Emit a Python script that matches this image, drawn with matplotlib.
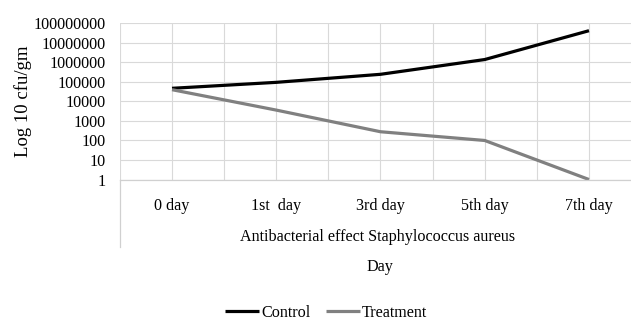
import matplotlib.pyplot as plt
import numpy as np

plt.rcParams['font.family'] = ['Liberation Serif', 'DejaVu Serif']

days = ["0 day", "1st  day", "3rd day", "5th day", "7th day"]
control = [47000, 95000, 245000, 1400000, 42000000]
treatment = [40000, 3600, 280, 100, 1]
y_ticks = [1, 10, 100, 1000, 10000, 100000, 1000000, 10000000, 100000000]

fig = plt.figure(figsize=(6.31, 3.22), dpi=100)
ax = fig.add_axes([0.190, 0.4425, 0.826, 0.485])

x = np.arange(len(days))
ax.plot(x, control, color="black", linewidth=2.3, label="Control", solid_capstyle="butt")
ax.plot(x, treatment, color="#808080", linewidth=2.3, label="Treatment", solid_capstyle="butt")

ax.set_yscale("log")
ax.set_ylim(1, 100000000)
ax.set_yticks(y_ticks)
ax.set_yticklabels([str(v) for v in y_ticks], fontsize=11.6)
ax.minorticks_off()
ax.set_xlim(-0.5, len(days) - 0.5)
ax.set_xticks(x)
ax.set_xticklabels(days, fontsize=11.6)
ax.tick_params(axis="both", length=0)
ax.tick_params(axis="y", pad=10)
ax.tick_params(axis="x", pad=13)

# grid: decades and half-category lines
for v in y_ticks:
    ax.axhline(v, color="#d9d9d9", linewidth=0.8, zorder=0)
for xv in np.arange(-0.5, len(days), 0.5):
    ax.axvline(xv, color="#d9d9d9", linewidth=0.8, zorder=0)

for s in ["top", "right", "left"]:
    ax.spines[s].set_visible(False)
ax.spines["bottom"].set_color("#d0d0d0")
ax.spines["bottom"].set_linewidth(0.9)

# group divider line under axis (multi-level category axis)
ax.plot([-0.5, -0.5], [0, -0.43], transform=ax.get_xaxis_transform(),
        color="#d0d0d0", linewidth=0.9, clip_on=False)

ax.set_ylabel("Log 10 cfu/gm", fontsize=13.5)
ax.yaxis.set_label_coords(-0.168, 0.5)

fig.text(0.598, 0.264, "Antibacterial effect Staphylococcus aureus", fontsize=11.6,
         ha="center", va="center")
fig.text(0.602, 0.172, "Day", fontsize=11.6, ha="center", va="center")

fig.legend(loc="center", bbox_to_anchor=(0.517, 0.028), ncol=2, frameon=False,
           fontsize=11.6, handlelength=2.1, handletextpad=0.1, columnspacing=1.0,
           borderpad=0)

fig.savefig("out.png", dpi=100)
